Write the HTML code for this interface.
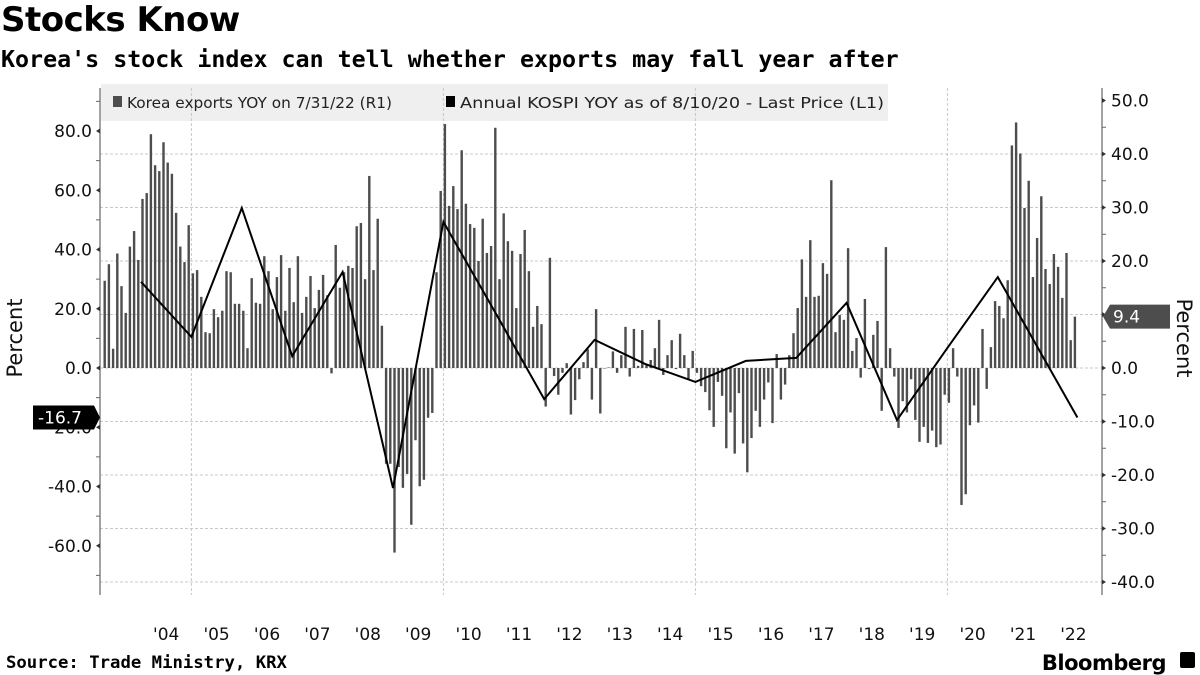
<!DOCTYPE html>
<html><head><meta charset="utf-8">
<style>
html,body{margin:0;padding:0;background:#fff;}
body{width:1200px;height:675px;overflow:hidden;position:relative;font-family:"DejaVu Sans","Liberation Sans",sans-serif;}
#title{position:absolute;left:1px;top:0px;font-size:34px;font-weight:bold;letter-spacing:-0.5px;margin:0;line-height:40px;}
#subtitle{position:absolute;left:1px;top:45px;font-size:23.3px;font-weight:bold;margin:0;font-family:"DejaVu Sans Mono","Liberation Mono",monospace;line-height:30px;}
svg{position:absolute;left:0;top:0;}
</style></head>
<body>
<h1 id="title">Stocks Know</h1>
<h2 id="subtitle">Korea's stock index can tell whether exports may fall year after</h2>
<svg id="chart" width="1200" height="675"></svg>
<script>
// Monthly Korea exports YoY (%), starting Apr 2003 (month index -9 rel. Jan 2004)
const exportsStart = -9;
const exports2003 = [16.3,19.4,3.6,21.4,15.3,10.3,22.7,25.6,20.2];
const exports2004_2007 = [31.6,32.7,43.7,37.9,36.8,42.2,38.4,36.3,29,22.7,19.8,26.7,
 17.7,18.3,13.3,6.7,6.5,11,9.5,10.7,18.1,17.9,12,12,
 10.7,3.7,16.8,12.2,12,20.9,18.1,11,17,21.1,10.7,18.7,
 12.3,20.9,10.3,13.3,17.2,11.2,14.6,17.4,13.6,-1,23];
const exports2008_2011 = [15,17.9,19.1,18.7,26.5,27.1,16.6,35.9,18.3,27.9,7.9,-17.9,
 -17.9,-34.5,-18.5,-22.4,-19.8,-29.3,-13.5,-22.1,-20.9,-9.3,-8.4,17.9,
 33.1,45.6,30.3,34,29.7,40.7,30.7,26.9,26.2,20,27.9,21.5,
 22.8,44.9,16.6,28.9,23.7,21.9,11.2,21.3,25.8,18.1,7.7,11.6,8.2];
const exports2012_2015 = [-7.2,20.6,-1.5,-5,-0.9,0.9,-8.7,-6,-2.1,1.1,3.5,-5.9,
 11,-8.5,0,0.1,3.1,-0.9,2.4,7.7,-1.6,7.3,0.4,7.1,
 0.6,1.5,3.7,9,-1.3,2.4,5.2,-0.2,6.4,2.4,-2.2,3.2,
 -0.9,-3.4,-4.5,-7.9,-11,-2.6,-5.2,-15,-8.3,-16,-4.7,-14.1];
const exports2016_2019 = [-19.5,-13.1,-8,-11,-5.9,-2.7,-10.3,2.6,-5.9,-3.1,2.4,6.5,
 11.2,20.3,13.3,23.9,13.3,13.5,19.6,17.6,35.1,6.7,9.9,9,
 22.4,3.2,5.6,-1.8,12.9,-0.2,6.2,8.8,-8,22.6,3.7,-1.6,
 -11.2,-6.2,-8.3,-2.1,-9.7,-13.8,-11,-14,-11.7,-14.8,-14.3];
const exports2020_2022 = [-5,-6.5,3.7,-1.6,-25.6,-23.6,-10.7,-7,-10.2,7.3,-3.9,3.9,
 12.5,11.6,9.3,16.4,41.6,45.9,40.1,29.9,35,17,24.3,32.1,
 18.5,15.7,21.3,18.9,13.1,21.5,5.2,9.6];
const exportsValues = [].concat(exports2003,exports2004_2007,exports2008_2011,exports2012_2015,exports2016_2019,exports2020_2022);
// Annual KOSPI YoY (%), dates as fractional years
const kospiDates = [2004,2005,2006,2007,2008,2009,2010,2011,2012,2013,2014,2015,2016,2017,2018,2019,2020,2021,2022.58];
const kospiValues = [29.1,10.5,54,4,32.4,-40.5,49.3,19.6,-10.5,9.5,1.4,-4.7,2.4,3.4,22,-17.6,6.8,30.7,-16.7];
const leftTicks = [80,60,40,20,0,-20,-40,-60];
const rightTicks = [50,40,30,20,10,0,-10,-20,-30,-40];
const yearLabels = ["'04","'05","'06","'07","'08","'09","'10","'11","'12","'13","'14","'15","'16","'17","'18","'19","'20","'21","'22"];

const NS="http://www.w3.org/2000/svg";
const svg=document.getElementById('chart');
function mk(tag,attrs,parent){const e=document.createElementNS(NS,tag);for(const k in attrs)e.setAttribute(k,attrs[k]);(parent||svg).appendChild(e);return e;}
const X0=100,X1=1102,YT=88,YB=595;
const yL=v=>368-v*2.9625;
const yR=v=>368-v*5.35;
const xYear=t=>141+(t-2004)*50.4;
const xMonth=m=>141+m*4.2+1.5;

const lg=mk('rect',{x:101,y:84,width:787,height:37,fill:'#efefef'});


rightTicks.forEach(v=>{if(v===50)return;const l=mk('line',{x1:X0,x2:X1,y1:yR(v),y2:yR(v),stroke:'#c8c8c8','stroke-dasharray':'3,2','stroke-width':1});

});
[2005,2010,2015,2020].forEach(t=>{const l=mk('line',{x1:xYear(t),x2:xYear(t),y1:YT,y2:YB,stroke:'#c8c8c8','stroke-dasharray':'3,2','stroke-width':1});

});
exportsValues.forEach((v,i)=>{const x=xMonth(exportsStart+i);const y0=yR(0),y1=yR(v);
const r=mk('rect',{x:x-1.2,y:Math.min(y0,y1),width:2.4,height:Math.max(0.5,Math.abs(y1-y0)),fill:'#4d4d4d'});

});
const pts=kospiDates.map((t,i)=>xYear(t).toFixed(1)+','+yL(kospiValues[i]).toFixed(1)).join(' ');
const pl=mk('polyline',{points:pts,fill:'none',stroke:'#000','stroke-width':2,'stroke-linejoin':'miter'});


const la=mk('line',{x1:X0,x2:X0,y1:YT,y2:YB,stroke:'#666','stroke-width':1.2});


const ra=mk('line',{x1:X1,x2:X1,y1:YT,y2:YB,stroke:'#666','stroke-width':1.2});


const tf='"DejaVu Sans","Liberation Sans",sans-serif';
leftTicks.forEach(v=>{const y=yL(v);
mk('polygon',{points:`${X0},${y-2.5} ${X0-4},${y} ${X0},${y+2.5}`,fill:'#333'});
mk('line',{x1:X0-4,x2:X0,y1:yL(v+10),y2:yL(v+10),stroke:'#666'});
const t=mk('text',{x:X0-8,y:y+6,'text-anchor':'end','font-size':17,'font-family':tf,fill:'#111'});t.textContent=v.toFixed(1);

});
mk('line',{x1:X0-4,x2:X0,y1:yL(-70),y2:yL(-70),stroke:'#666'});
rightTicks.forEach(v=>{const y=yR(v);
mk('polygon',{points:`${X1},${y-2.5} ${X1+4},${y} ${X1},${y+2.5}`,fill:'#333'});
if(v>-40)mk('line',{x1:X1,x2:X1+4,y1:yR(v-5),y2:yR(v-5),stroke:'#666'});
const t=mk('text',{x:X1+9,y:y+6,'font-size':17,'font-family':tf,fill:'#111'});t.textContent=v.toFixed(1);

});
yearLabels.forEach((s,i)=>{const t=mk('text',{x:xYear(2004.5+i),y:640,'text-anchor':'middle','font-size':17,'font-family':tf,fill:'#111'});t.textContent=s;

});
const lt=mk('text',{x:0,y:0,transform:'translate(22,338) rotate(-90)','text-anchor':'middle','font-size':21,'font-family':tf,fill:'#111'});lt.textContent='Percent';


const rt=mk('text',{x:0,y:0,transform:'translate(1177,338) rotate(90)','text-anchor':'middle','font-size':21,'font-family':tf,fill:'#111'});rt.textContent='Percent';


const lastL=yL(kospiValues[kospiValues.length-1]);
mk('polygon',{points:`33,${lastL-12} 94,${lastL-12} 100,${lastL} 94,${lastL+12} 33,${lastL+12}`,fill:'#000'});
const lv=mk('text',{x:38,y:lastL+6,'font-size':17,'font-family':tf,fill:'#fff'});lv.textContent=kospiValues[kospiValues.length-1].toFixed(1);


const lastR=yR(exportsValues[exportsValues.length-1]);
mk('polygon',{points:`1103,${lastR} 1110,${lastR-12} 1170,${lastR-12} 1170,${lastR+12} 1110,${lastR+12}`,fill:'#4d4d4d'});
const rv=mk('text',{x:1113,y:lastR+6,'font-size':17,'font-family':tf,fill:'#fff'});rv.textContent='9.4';


mk('rect',{x:113,y:96,width:9,height:11,fill:'#4d4d4d'});
const l1=mk('text',{x:127,y:108,'font-size':15.5,'font-family':tf,fill:'#222',textLength:265,lengthAdjust:'spacingAndGlyphs'});l1.textContent='Korea exports YOY on 7/31/22 (R1)';


mk('rect',{x:446,y:96,width:9,height:11,fill:'#000'});
const l2=mk('text',{x:460,y:108,'font-size':15.5,'font-family':tf,fill:'#222',textLength:424,lengthAdjust:'spacingAndGlyphs'});l2.textContent='Annual KOSPI YOY as of 8/10/20 - Last Price (L1)';


const src=mk('text',{x:6,y:668,'font-size':17.3,'font-weight':'bold','font-family':'"DejaVu Sans Mono","Liberation Mono",monospace',fill:'#000'});src.textContent='Source: Trade Ministry, KRX';


const bb=mk('text',{x:1166,y:670,'text-anchor':'end','font-size':21,'font-weight':'bold','font-family':tf,fill:'#000','letter-spacing':'-0.5'});bb.textContent='Bloomberg';


mk('rect',{x:1180,y:652,width:15,height:16,rx:2,fill:'#000'});
</script>
</body></html>
